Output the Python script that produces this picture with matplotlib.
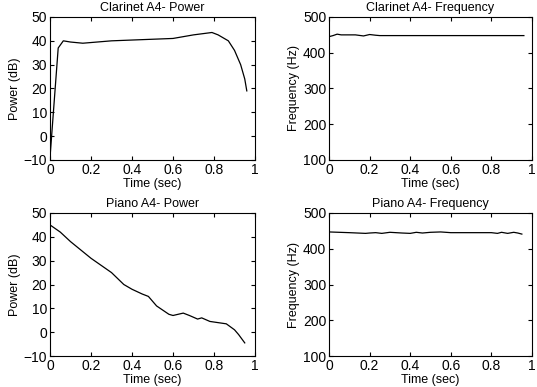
import matplotlib
matplotlib.use("Agg")
import matplotlib.pyplot as plt

plt.rcParams['font.family'] = ['Liberation Sans', 'DejaVu Sans']

# clarinet A4
cl_pow_t = [0, 0.04, 0.065, 0.1, 0.16, 0.3, 0.45, 0.6, 0.7, 0.79, 0.82, 0.87, 0.9, 0.93, 0.95, 0.96]
cl_pow = [-9, 37, 40, 39.5, 39, 40, 40.5, 41, 42.5, 43.5, 42.5, 40, 36, 30, 24, 19]
cl_freq_t = [0, 0.02, 0.04, 0.06, 0.1, 0.13, 0.17, 0.2, 0.23, 0.25, 0.5, 0.96]
cl_freq = [445, 448, 452, 450, 450, 450, 447, 451, 449, 448, 448, 448]

# piano A4
pi_pow_t = [0, 0.05, 0.1, 0.15, 0.2, 0.25, 0.3, 0.36, 0.4, 0.45, 0.48, 0.52, 0.58, 0.6,
            0.65, 0.68, 0.72, 0.74, 0.78, 0.82, 0.86, 0.9, 0.92, 0.95]
pi_pow = [45, 42, 38, 34.5, 31, 28, 25, 20, 18, 16, 15, 11, 7.5, 7,
          8, 7, 5.5, 6, 4.5, 4, 3.5, 1, -1, -4.5]
pi_freq_t = [0, 0.1, 0.18, 0.2, 0.23, 0.26, 0.3, 0.36, 0.4, 0.43, 0.46, 0.5, 0.55,
             0.6, 0.8, 0.83, 0.85, 0.88, 0.91, 0.93, 0.95]
pi_freq = [447, 445, 443, 444, 445, 443, 446, 444, 443, 446, 444, 446, 447,
           445, 445, 443, 446, 443, 446, 444, 441]

pow_ticks = [-10, 0, 10, 20, 30, 40, 50]
freq_ticks = [100, 200, 300, 400, 500]

fig = plt.figure(figsize=(5.37, 3.87), dpi=100)
W, H = 537, 387

def make_ax(x0, y0, x1, y1):
    ax = fig.add_axes([x0 / W, 1 - y1 / H, (x1 - x0) / W, (y1 - y0) / H])
    ax.tick_params(direction='in', top=True, right=True, length=3, labelsize=10, pad=2)
    for s in ax.spines.values():
        s.set_linewidth(0.8)
    ax.set_xlim(0, 1)
    ax.set_xticks([0, 0.2, 0.4, 0.6, 0.8, 1])
    ax.set_xticklabels(['0', '0.2', '0.4', '0.6', '0.8', '1'])
    ax.set_xlabel('Time (sec)', fontsize=9, labelpad=1)
    return ax

ax = make_ax(50, 17, 255, 160)
ax.plot(cl_pow_t, cl_pow, color='black', lw=0.9)
ax.set_ylim(-10, 50)
ax.set_yticks(pow_ticks)
ax.set_ylabel('Power (dB)', fontsize=9, labelpad=2)
ax.set_title('Clarinet A4- Power', fontsize=9, pad=4)

ax = make_ax(329, 17, 532, 160)
ax.plot(cl_freq_t, cl_freq, color='black', lw=0.9)
ax.set_ylim(100, 500)
ax.set_yticks(freq_ticks)
ax.set_ylabel('Frequency (Hz)', fontsize=9, labelpad=2)
ax.set_title('Clarinet A4- Frequency', fontsize=9, pad=4)

ax = make_ax(50, 213, 255, 356)
ax.plot(pi_pow_t, pi_pow, color='black', lw=0.9)
ax.set_ylim(-10, 50)
ax.set_yticks(pow_ticks)
ax.set_ylabel('Power (dB)', fontsize=9, labelpad=2)
ax.set_title('Piano A4- Power', fontsize=9, pad=4)

ax = make_ax(329, 213, 532, 356)
ax.plot(pi_freq_t, pi_freq, color='black', lw=0.9)
ax.set_ylim(100, 500)
ax.set_yticks(freq_ticks)
ax.set_ylabel('Frequency (Hz)', fontsize=9, labelpad=2)
ax.set_title('Piano A4- Frequency', fontsize=9, pad=4)

fig.savefig('out.png', dpi=100)
